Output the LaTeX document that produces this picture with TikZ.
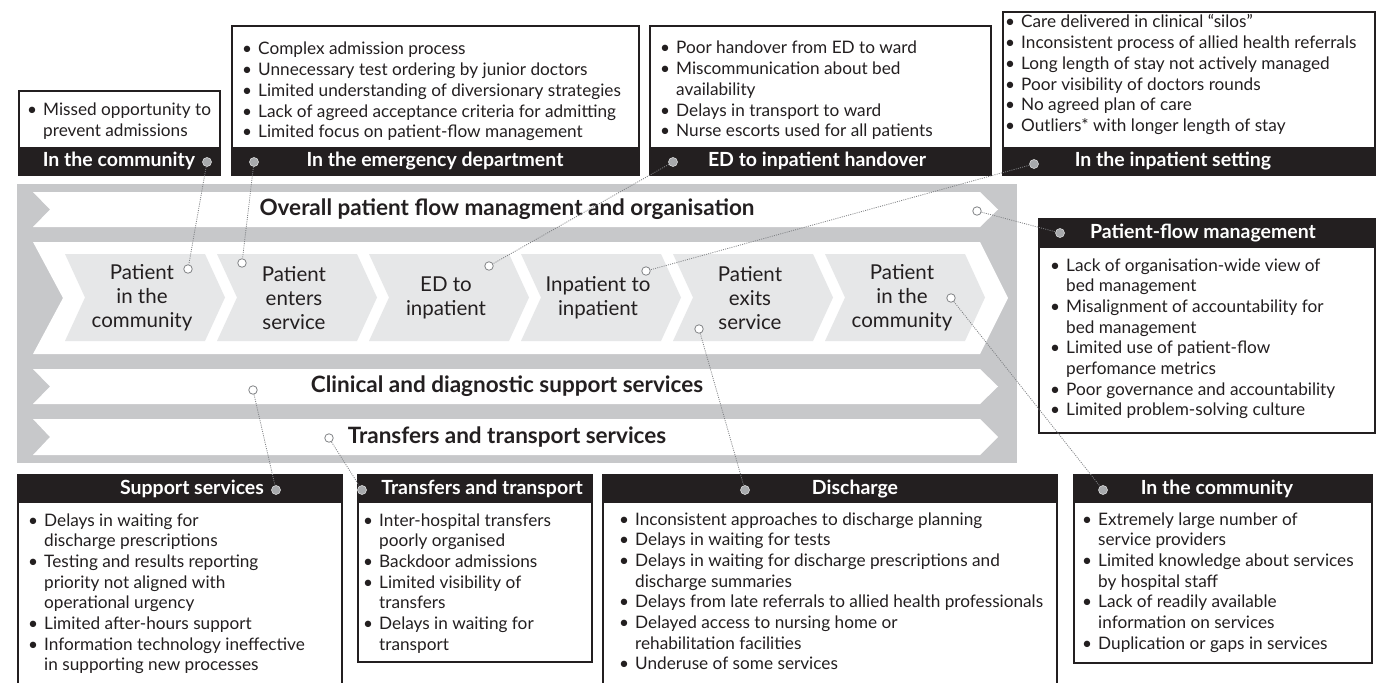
\documentclass[tikz,border=0pt]{standalone}
\usepackage{fontspec}
\setmainfont{Lato}
\usetikzlibrary{fit}

\definecolor{panel}{HTML}{C7C8CA}
\definecolor{chev}{HTML}{E6E7E8}
\definecolor{ink}{HTML}{231F20}
\definecolor{dotline}{HTML}{808285}
\definecolor{pinfill}{HTML}{A7A9AC}

% bullet list in a top-aligned box, items with a hanging indent
\newcommand\blist[2]{\begin{minipage}[t]{#1}#2\end{minipage}}
\newcommand\itm{\par\hangindent=16pt\hangafter=1\noindent\makebox[16pt][l]{\textbullet}}

\begin{document}
\begin{tikzpicture}[x=1pt, y=-1pt,
frame/.style={draw=ink, line width=1.2pt, fill=white, inner sep=0pt},
bar/.style={fill=ink, inner sep=0pt},
bartext/.style={text=white, font=\fontsize{19.5}{22}\selectfont\bfseries},
list/.style={anchor=base west, inner sep=0pt, text=ink, font=\fontsize{17.2}{20.7}\selectfont},
stage/.style={align=center, text=ink, font=\fontsize{20.5}{24}\selectfont},
band/.style={text=ink, font=\fontsize{22.5}{26}\selectfont\bfseries},
hole/.style={circle, draw=dotline, fill=white, line width=0.8pt, inner sep=0pt, minimum size=8.5pt},
pin/.style={circle, fill=pinfill, draw=gray!30, line width=0.6pt, inner sep=0pt, minimum size=9pt},
link/.style={draw=dotline, line width=0.8pt, dash pattern=on 1pt off 1.2pt}]

\clip (0,0) rectangle (1380,682);
\fill[white] (0,0) rectangle (1380,682);

% grey panel with the four bands
\fill[panel] (17,184) rectangle (1017,463);
\foreach \t/\b in {192/227,369/404,419/455}
  \fill[white] (33,\t) -- (980,\t) -- (998,{(\t+\b)/2}) -- (980,\b) -- (33,\b) -- (50,{(\t+\b)/2}) -- cycle;
\fill[white] (33,242) -- (980,242) -- (1008,298) -- (980,354) -- (33,354) -- (63,298) -- cycle;

\foreach \i/\name/\txt in {0/s1/{Patient\\in the\\community}, 1/s2/{Patient\\enters\\service},
  2/s3/{ED to\\inpatient}, 3/s4/{Inpatient to\\inpatient}, 4/s5/{Patient\\exits\\service},
  5/s6/{Patient\\in the\\community}}
{
  \fill[chev] ({65+152*\i},254) -- ++(140,0) -- ++(20,43.5) -- ++(-20,43.5) -- ++(-140,0) -- ++(20,-43.5) -- cycle;
  \node[stage] (\name) at ({65+152*\i+77},298) {\txt};
}

\node[band] (overall) at (507,209) {Overall patient flow managment and organisation};
\node[band] (clinical) at (507,386) {Clinical and diagnostic support services};
\node[band] (transport) at (507,437) {Transfers and transport services};

% top boxes
\node[frame, fit={(19,91) (220,175)}] (comBox) {};
\node[bar, fit={(19,147) (220,175)}] (comBar) {};
\node[bartext] (comTitle) at (119,161) {In the community};
\node[list] (comList) at (27,116) {\blist{190pt}{\itm Missed opportunity to\newline prevent admissions}};

\node[frame, fit={(232,26) (639,175)}] (edBox) {};
\node[bar, fit={(232,147) (639,175)}] (edBar) {};
\node[bartext] (edTitle) at (435,161) {In the emergency department};
\node[list] (edList) at (242,55) {\blist{400pt}{\itm Complex admission process
\itm Unnecessary test ordering by junior doctors
\itm Limited understanding of diversionary strategies
\itm Lack of agreed acceptance criteria for admitting
\itm Limited focus on patient-flow management}};

\node[frame, fit={(650,26) (991,175)}] (hoBox) {};
\node[bar, fit={(650,147) (991,175)}] (hoBar) {};
\node[bartext] (hoTitle) at (817,161) {ED to inpatient handover};
\node[list] (hoList) at (660,54) {\blist{330pt}{\itm Poor handover from ED to ward
\itm Miscommunication about bed\newline availability
\itm Delays in transport to ward
\itm Nurse escorts used for all patients}};

\node[frame, fit={(1003,12) (1375,175)}] (ipBox) {};
\node[bar, fit={(1003,147) (1375,175)}] (ipBar) {};
\node[bartext] (ipTitle) at (1173,161) {In the inpatient setting};
\node[list] (ipList) at (1005,28) {\blist{365pt}{\itm Care delivered in clinical ``silos''
\itm Inconsistent process of allied health referrals
\itm Long length of stay not actively managed
\itm Poor visibility of doctors rounds
\itm No agreed plan of care
\itm Outliers* with longer length of stay}};

% right box
\node[frame, fit={(1039,219) (1375,433)}] (pfBox) {};
\node[bar, fit={(1039,219) (1375,248)}] (pfBar) {};
\node[bartext] (pfTitle) at (1203,233) {Patient-flow management};
\node[list] (pfList) at (1050,271) {\blist{330pt}{\itm Lack of organisation-wide view of\newline bed management
\itm Misalignment of accountability for\newline bed management
\itm Limited use of patient-flow\newline perfomance metrics
\itm Poor governance and accountability
\itm Limited problem-solving culture}};

% bottom boxes
\node[frame, fit={(18,475) (342,690)}] (suBox) {};
\node[bar, fit={(18,475) (342,503)}] (suBar) {};
\node[bartext] (suTitle) at (192,489) {Support services};
\node[list] (suList) at (28,526) {\blist{320pt}{\itm Delays in waiting for\newline discharge prescriptions
\itm Testing and results reporting\newline priority not aligned with\newline operational urgency
\itm Limited after-hours support
\itm Information technology ineffective\newline in supporting new processes}};

\node[frame, fit={(358,475) (592,662)}] (trBox) {};
\node[bar, fit={(358,475) (592,503)}] (trBar) {};
\node[bartext] (trTitle) at (482,489) {Transfers and transport};
\node[list] (trList) at (363,526) {\blist{230pt}{\itm Inter-hospital transfers\newline poorly organised
\itm Backdoor admissions
\itm Limited visibility of\newline transfers
\itm Delays in waiting for\newline transport}};

\node[frame, fit={(603,475) (1057,690)}] (diBox) {};
\node[bar, fit={(603,475) (1057,503)}] (diBar) {};
\node[bartext] (diTitle) at (855,489) {Discharge};
\node[list] (diList) at (619,525) {\blist{450pt}{\itm Inconsistent approaches to discharge planning
\itm Delays in waiting for tests
\itm Delays in waiting for discharge prescriptions and\newline discharge summaries
\itm Delays from late referrals to allied health professionals
\itm Delayed access to nursing home or\newline rehabilitation facilities
\itm Underuse of some services}};

\node[frame, fit={(1074,475) (1372,663)}] (coBox) {};
\node[bar, fit={(1074,475) (1372,503)}] (coBar) {};
\node[bartext] (coTitle) at (1217,489) {In the community};
\node[list] (coList) at (1082,525) {\blist{295pt}{\itm Extremely large number of\newline service providers
\itm Limited knowledge about services\newline by hospital staff
\itm Lack of readily available\newline information on services
\itm Duplication or gaps in services}};

% open circles on the flow and pins on the boxes
\node[hole] (h1) at (188,269) {};
\node[hole] (h2) at (242,263) {};
\node[hole] (h3) at (489,266) {};
\node[hole] (h4) at (646,271) {};
\node[hole] (h5) at (699,329) {};
\node[hole] (h6) at (951,298) {};
\node[hole] (hOverall) at (977,211) {};
\node[hole] (hClinical) at (253,390) {};
\node[hole] (hTransport) at (329,438) {};

\node[pin] (comPin) at (207,162) {};
\node[pin] (edPin) at (254,162) {};
\node[pin] (hoPin) at (673,162) {};
\node[pin] (ipPin) at (1034,164) {};
\node[pin] (pfPin) at (1060,233) {};
\node[pin] (suPin) at (276,490) {};
\node[pin] (trPin) at (362,490) {};
\node[pin] (diPin) at (745,490) {};
\node[pin] (coPin) at (1103,490) {};

\draw[link] (comPin) -- (h1);
\draw[link] (edPin) -- (h2);
\draw[link] (hoPin) -- (h3);
\draw[link] (ipPin) -- (h4);
\draw[link] (hOverall) -- (pfPin);
\draw[link] (hClinical) -- (suPin);
\draw[link] (hTransport) -- (trPin);
\draw[link] (h5) -- (diPin);
\draw[link] (h6) -- (coPin);

\end{tikzpicture}
\end{document}
